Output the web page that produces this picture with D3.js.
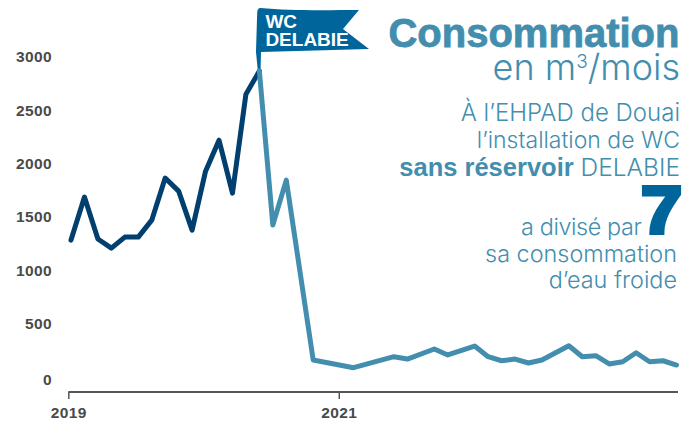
<!DOCTYPE html>
<html>
<head>
<meta charset="utf-8">
<script src="https://cdn.jsdelivr.net/npm/d3@7"></script>
<style>
    html, body { margin: 0; padding: 0; background: #fff; }
    svg { display: block; }
    .lab { font-family: "Inter", "Liberation Sans", sans-serif; font-weight: 300; fill: #438eae; text-anchor: end; }
    .big { font-family: "Liberation Sans", sans-serif; font-weight: 700; }
</style>
</head>
<body>
<svg id="chart" width="697" height="421"></svg>
<script>
// position of each reading on the time axis (some months have no reading)
let beforeSteps = [0, 1, 2, 3, 4, 5, 6, 7, 8, 9, 10, 11, 12, 13, 14];
let beforeValues = [1285, 1688, 1295, 1210, 1313, 1313, 1472, 1866, 1744, 1379, 1931, 2221, 1725, 2652, 2868];

let afterSteps = [14, 15, 16, 18, 21, 24, 25, 27, 28, 30, 31, 32, 33, 34, 35, 37, 38, 39, 40, 41, 42, 43, 44, 45];
let afterValues = [2868, 1426, 1847, 162, 90, 193, 171, 265, 209, 293, 193, 155, 171, 134, 162, 296, 193, 202, 125, 146, 230, 146, 155, 115];

let yTicks = [0, 500, 1000, 1500, 2000, 2500, 3000];
let xTickSteps = [-0.2, 19.9];
let xTickLabels = ["2019", "2021"];

let darkBlue = "#003f6e";
let lightBlue = "#438eae";
let flagBlue = "#00659a";
let grey = "#4a4a4a";

let svg = d3.select("#chart");

let x = d3.scaleLinear().domain([0, 45]).range([71, 676.5]);
let y = d3.scaleLinear().domain([0, 3000]).range([377.3, 57]);

let line = d3.line()
    .x(d => x(d[0]))
    .y(d => y(d[1]))
    .curve(d3.curveLinear);

function styleTick(sel) {
    sel.style("font-family", "'Liberation Sans', sans-serif")
        .style("font-weight", "700")
        .style("font-size", "15.5px")
        .style("letter-spacing", "0.4px")
        .style("fill", grey);
}

// y axis labels
let yAxis = svg.append("g")
    .attr("transform", "translate(52,0)")
    .call(d3.axisLeft(y).tickValues(yTicks).tickSize(0).tickPadding(0).tickFormat(d3.format("d")));
yAxis.select(".domain").remove();
yAxis.selectAll("text")
    .call(styleTick)
    .attr("dy", d => d === 0 ? "0.45em" : "0.3em");

// x axis
let xAxis = svg.append("g")
    .attr("transform", "translate(0,392)")
    .call(d3.axisBottom(x).tickValues(xTickSteps).tickSize(7).tickPadding(8).tickFormat((d, i) => xTickLabels[i]));
xAxis.select(".domain")
    .attr("d", `M${x(xTickSteps[0])},0H678`)
    .attr("stroke", "#555")
    .attr("stroke-width", 2);
xAxis.selectAll("line").attr("stroke", "#555").attr("stroke-width", 1.5);
xAxis.selectAll("text").call(styleTick);

// flag, hung on the peak reading
let peakX = x(beforeSteps[beforeSteps.length - 1]);
let peakY = y(beforeValues[beforeValues.length - 1]);
let flag = svg.append("g").attr("transform", `translate(${peakX},${peakY})`);

// series
svg.insert("path", "g")
    .attr("d", line(d3.zip(beforeSteps, beforeValues)))
    .attr("fill", "none")
    .attr("stroke", darkBlue)
    .attr("stroke-width", 5)
    .attr("stroke-linejoin", "round")
    .attr("stroke-linecap", "round");

flag.append("path")
    .attr("d", "M-1.5,0 L-3.4,-19 L-2.2,-58 C-2,-62 -0.5,-63 1,-63 C30,-60 70,-61 99.6,-61 L83.6,-42 L109.6,-22 L1.6,-19 L1.2,0 Z")
    .attr("fill", flagBlue);

svg.append("path")
    .attr("d", line(d3.zip(afterSteps, afterValues)))
    .attr("fill", "none")
    .attr("stroke", lightBlue)
    .attr("stroke-width", 5)
    .attr("stroke-linejoin", "round")
    .attr("stroke-linecap", "round");

flag.append("text").text("WC")
    .attr("x", 6).attr("y", -43)
    .attr("class", "big").style("font-size", "19px").style("fill", "#fff");
flag.append("text").text("DELABIE")
    .attr("x", 6).attr("y", -25)
    .attr("class", "big").style("font-size", "19px").style("fill", "#fff");

// text block on the right
function addLine(txt, xr, yb, size) {
    return svg.append("text").attr("class", "lab")
        .attr("x", xr).attr("y", yb)
        .style("font-size", size + "px")
        .text(txt);
}

addLine("Consommation", 679.5, 47, 40)
    .attr("class", "lab big")
    .style("font-family", "'Liberation Sans', sans-serif")
    .style("font-weight", "700")
    .style("stroke", lightBlue)
    .style("stroke-width", 0.8);

let unit = addLine("", 680, 80, 36);
unit.append("tspan").text("en m");
unit.append("tspan").text("3").attr("dy", -12).style("font-size", "19px");
unit.append("tspan").text("/mois").attr("dy", 12);

addLine("À l’EHPAD de Douai", 680, 120.5, 24);
addLine("l’installation de WC", 680, 148, 23);

let sans = addLine("", 680, 175.5, 24);
sans.append("tspan").text("sans réservoir")
    .style("font-weight", "700")
    .style("font-family", "'Liberation Sans', sans-serif")
    .style("font-size", "25.5px");
sans.append("tspan").text(" DELABIE").style("font-size", "24.5px");

svg.append("text").text("7")
    .attr("class", "big")
    .attr("transform", "translate(682,233) scale(1.12,1)")
    .attr("text-anchor", "end")
    .style("font-size", "66px")
    .style("fill", flagBlue)
    .style("stroke", flagBlue)
    .style("stroke-width", 4);

addLine("a divisé par", 641.5, 235, 23.4).style("letter-spacing", "-0.4px");
addLine("sa consommation", 677, 261.5, 23.4);
addLine("d’eau froide", 677, 288, 23.4);
</script>
</body>
</html>
